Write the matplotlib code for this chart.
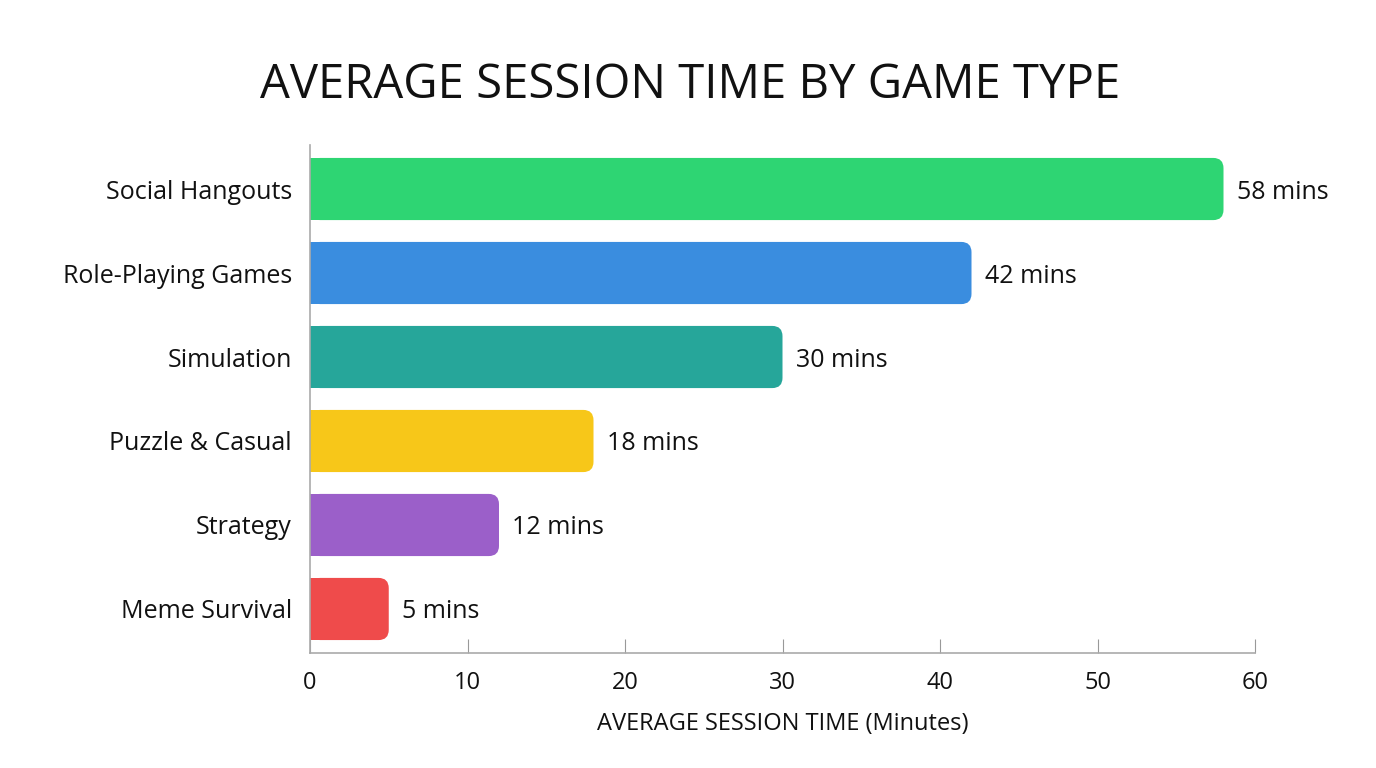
import matplotlib
matplotlib.use("Agg")
from matplotlib import pyplot as plt
from matplotlib.patches import FancyBboxPatch, Rectangle
import numpy as np

plt.rcParams['font.family'] = ['Open Sans', 'DejaVu Sans']

categories = ["Social Hangouts", "Role-Playing Games", "Simulation",
              "Puzzle & Casual", "Strategy", "Meme Survival"]
minutes = [58, 42, 30, 18, 12, 5]
colors = ["#2ed573", "#3a8ddf", "#26a69a", "#f7c719", "#9b5fc9", "#ef4b4b"]
xticks = [0, 10, 20, 30, 40, 50, 60]

fig = plt.figure(figsize=(13.76, 7.68), dpi=100)
ax = fig.add_axes([310/1376, (768-653)/768, (1255-310)/1376, (653-145)/768])

bar_h = 0.74
r = 0.65
# px per x unit / px per y unit
aspect = (945/60) / 84.0

for i, (v, c) in enumerate(zip(minutes, colors)):
    y0 = i - bar_h/2
    ax.add_patch(FancyBboxPatch((0, y0), v, bar_h,
                                boxstyle=f"round,pad=0,rounding_size={r}",
                                mutation_aspect=aspect, fc=c, ec="none"))
    ax.add_patch(Rectangle((0, y0), min(v, 2*r), bar_h, fc=c, ec="none"))
    ax.text(v + 0.85, i, f"{v} mins", va="center_baseline", ha="left", fontsize=18, color="#111111")

ax.set_xlim(0, 60)
ax.set_ylim(len(categories) - 1 + 0.524, -0.524)
ax.set_yticks(range(len(categories)))
ax.set_yticklabels(categories, fontsize=18, color="#111111", va="center_baseline")
ax.set_xticks(xticks)
ax.set_xticklabels([str(t) for t in xticks], fontsize=17, color="#111111")
ax.tick_params(axis="y", length=0, pad=13)
ax.tick_params(axis="x", direction="in", length=10, color="#999999", pad=13)

for s in ["top", "right"]:
    ax.spines[s].set_visible(False)
for s in ["left", "bottom"]:
    ax.spines[s].set_color("#aaaaaa")
    ax.spines[s].set_linewidth(1.2)

ax.set_xlabel("AVERAGE SESSION TIME (Minutes)", fontsize=17, color="#111111", labelpad=12)
fig.text(690/1376, 1 - 85/768, "AVERAGE SESSION TIME BY GAME TYPE",
         ha="center", va="center", fontsize=34, color="#111111")

fig.savefig("out.png", dpi=100, facecolor="white")
